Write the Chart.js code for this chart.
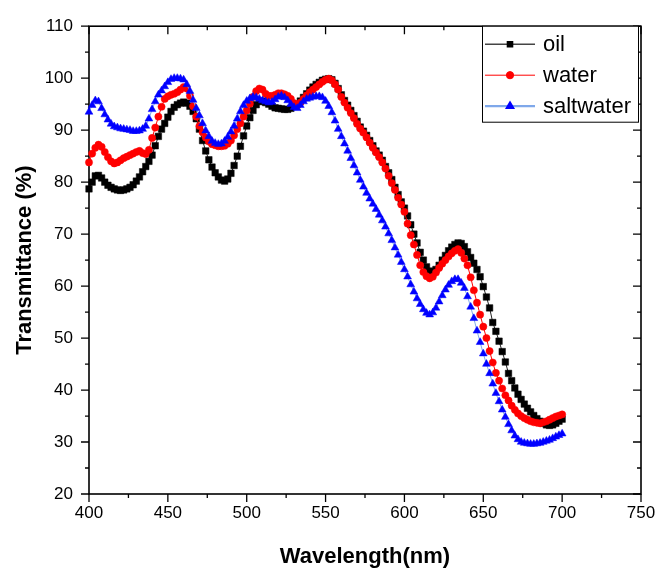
<!DOCTYPE html>
<head>
    <title>transmittance</title>
    <script src="https://cdn.jsdelivr.net/npm/chart.js@4.4.0/dist/chart.umd.min.js"></script>
    <style>
        body { margin: 0; background: #fff; }
    </style>
</head>
<body>
    <canvas id="chart" width="670" height="574"></canvas>
    <script>
// wavelength in nm, one sample every 2 nm
var wavelength = [
 400,402,404,406,408,410,412,414,416,418,
 420,422,424,426,428,430,432,434,436,438,
 440,442,444,446,448,450,452,454,456,458,
 460,462,464,466,468,470,472,474,476,478,
 480,482,484,486,488,490,492,494,496,498,
 500,502,504,506,508,510,512,514,516,518,
 520,522,524,526,528,530,532,534,536,538,
 540,542,544,546,548,550,552,554,556,558,
 560,562,564,566,568,570,572,574,576,578,
 580,582,584,586,588,590,592,594,596,598,
 600,602,604,606,608,610,612,614,616,618,
 620,622,624,626,628,630,632,634,636,638,
 640,642,644,646,648,650,652,654,656,658,
 660,662,664,666,668,670,672,674,676,678,
 680,682,684,686,688,690,692,694,696,698,
 700];

var oil = [
 78.7,80.0,81.2,81.3,80.8,80.0,79.4,79.0,78.7,78.5,
 78.4,78.5,78.7,79.0,79.5,80.2,81.0,82.0,83.0,84.0,
 85.2,87.0,88.8,90.2,91.3,92.5,93.6,94.4,94.9,95.2,
 95.4,95.2,94.6,93.6,92.2,90.2,88.0,86.0,84.3,82.9,
 81.8,81.0,80.4,80.2,80.6,81.7,83.2,85.0,86.9,88.9,
 90.8,92.4,93.8,94.9,95.5,95.6,95.3,95.0,94.6,94.3,
 94.2,94.1,94.0,94.0,94.2,94.6,95.0,95.6,96.3,97.0,
 97.7,98.3,98.8,99.2,99.6,99.8,99.9,99.7,99.0,98.0,
 96.8,95.7,94.8,93.8,92.8,91.7,90.6,89.8,89.0,88.0,
 87.0,86.0,85.2,84.2,83.0,81.8,80.5,79.0,77.6,76.2,
 75.0,73.5,71.8,70.0,68.3,66.5,65.0,63.7,62.9,62.7,
 63.2,64.0,65.0,65.9,66.8,67.5,68.0,68.3,68.2,67.6,
 66.6,65.5,64.4,63.2,61.8,59.9,57.9,55.8,53.0,51.3,
 49.4,47.4,45.4,43.2,41.8,40.4,39.2,38.2,37.3,36.5,
 35.8,35.1,34.5,34.0,33.6,33.3,33.2,33.3,33.6,34.0,
 34.4];

var water = [
 83.8,85.5,86.6,87.2,86.8,85.8,84.8,84.0,83.6,83.8,
 84.2,84.6,84.9,85.2,85.5,85.8,86.0,85.6,85.4,86.2,
 88.5,90.5,92.6,94.5,96.0,96.5,96.8,97.0,97.3,97.8,
 98.3,98.0,96.6,94.6,92.6,90.8,89.6,88.6,87.8,87.3,
 87.1,86.9,86.9,87.0,87.4,88.0,89.0,90.2,91.3,92.6,
 93.8,95.1,96.4,97.5,98.0,97.8,97.0,96.6,96.6,96.8,
 97.1,97.1,96.9,96.6,96.0,95.2,94.8,95.3,96.0,96.7,
 97.3,97.8,98.3,98.8,99.3,99.7,99.9,99.6,98.8,97.8,
 96.4,95.3,94.3,93.3,92.3,91.2,90.3,89.5,88.6,87.6,
 86.6,85.7,84.8,83.8,82.6,81.2,79.8,78.5,77.0,75.7,
 74.3,72.0,69.8,68.0,66.0,64.0,62.7,61.9,61.5,61.8,
 62.6,63.5,64.3,65.0,65.7,66.3,66.8,67.1,66.4,65.3,
 64.0,61.7,59.2,56.8,54.5,52.2,50.0,47.5,45.3,43.3,
 41.8,40.3,39.0,38.0,37.0,36.2,35.5,35.0,34.6,34.3,
 34.0,33.8,33.7,33.6,33.8,34.0,34.3,34.6,34.9,35.1,
 35.3];

var saltwater = [
 93.5,94.8,95.7,95.5,94.2,93.0,92.0,91.2,90.7,90.5,
 90.3,90.2,90.1,90.0,89.8,89.8,89.9,90.2,90.8,92.2,
 94.0,95.5,96.8,97.6,98.4,99.2,99.8,100.0,100.0,99.9,
 99.7,98.8,97.5,95.8,94.2,92.8,91.3,89.9,88.8,87.9,
 87.5,87.3,87.4,87.9,88.7,89.7,90.8,92.2,93.6,94.8,
 95.6,96.1,96.4,96.3,96.0,95.7,95.5,95.3,95.4,95.9,
 96.4,96.6,96.3,95.7,95.0,94.4,94.2,94.8,95.5,96.0,
 96.2,96.4,96.5,96.5,96.3,95.6,94.6,93.4,91.8,90.2,
 88.8,87.4,86.0,84.6,83.2,81.8,80.4,79.1,77.9,76.8,
 75.8,74.8,73.7,72.6,71.4,70.1,68.8,67.4,66.0,64.6,
 63.2,61.8,60.3,58.9,57.6,56.5,55.5,54.8,54.5,54.9,
 55.8,57.0,58.2,59.3,60.2,60.9,61.3,61.3,60.6,59.6,
 58.0,56.0,53.8,51.4,49.2,47.0,45.0,43.2,41.2,39.4,
 37.8,36.2,34.8,33.4,32.2,31.2,30.5,30.0,29.8,29.7,
 29.6,29.6,29.7,29.8,30.0,30.2,30.4,30.7,31.0,31.3,
 31.6];

var FONT = '"Liberation Sans", Arial, sans-serif';

function pts(vals) {
    return wavelength.map(function (w, i) { return {x: w, y: vals[i]}; });
}

// box, major and minor ticks (out on bottom/left, in on top/right)
var frame = {
    id: 'frame',
    beforeDatasetsDraw: function (chart) {
        var ctx = chart.ctx, a = chart.chartArea;
        var sx = chart.scales.x, sy = chart.scales.y;
        ctx.save();
        ctx.strokeStyle = '#000';
        ctx.lineWidth = 1.6;
        ctx.strokeRect(a.left, a.top, a.right - a.left, a.bottom - a.top);
        ctx.lineWidth = 1.3;
        ctx.beginPath();
        sx.ticks.forEach(function (t, i) {
            var px = sx.getPixelForValue(t.value);
            ctx.moveTo(px, a.bottom); ctx.lineTo(px, a.bottom + 8);
            ctx.moveTo(px, a.top); ctx.lineTo(px, a.top + 8);
            if (i > 0) {
                var mx = sx.getPixelForValue((t.value + sx.ticks[i - 1].value) / 2);
                ctx.moveTo(mx, a.bottom); ctx.lineTo(mx, a.bottom + 4);
                ctx.moveTo(mx, a.top); ctx.lineTo(mx, a.top + 4);
            }
        });
        sy.ticks.forEach(function (t, i) {
            var py = sy.getPixelForValue(t.value);
            ctx.moveTo(a.left, py); ctx.lineTo(a.left - 8, py);
            ctx.moveTo(a.right, py); ctx.lineTo(a.right - 8, py);
            if (i > 0) {
                var my = sy.getPixelForValue((t.value + sy.ticks[i - 1].value) / 2);
                ctx.moveTo(a.left, my); ctx.lineTo(a.left - 4, my);
                ctx.moveTo(a.right, my); ctx.lineTo(a.right - 4, my);
            }
        });
        ctx.stroke();
        ctx.restore();
    }
};

// legend box in the upper right corner, line + marker + label
var legendBox = {
    id: 'legendBox',
    afterDraw: function (chart) {
        var ctx = chart.ctx, a = chart.chartArea;
        var x0 = a.right - 159, y0 = a.top, w = 156, h = 96;
        ctx.save();
        ctx.fillStyle = '#fff';
        ctx.fillRect(x0, y0, w, h);
        ctx.strokeStyle = '#000';
        ctx.lineWidth = 1;
        ctx.strokeRect(x0 + 0.5, y0, w, h);
        var lineCols = ['#444', '#ff0000', '#7fa8ea'];
        var lineW = [1.5, 1, 2.2];
        chart.data.datasets.forEach(function (ds, i) {
            var cy = y0 + 18 + i * 31;
            ctx.strokeStyle = lineCols[i];
            ctx.lineWidth = lineW[i];
            ctx.beginPath();
            ctx.moveTo(x0 + 3, cy); ctx.lineTo(x0 + 53, cy);
            ctx.stroke();
            ctx.fillStyle = ds.pointBackgroundColor;
            ctx.strokeStyle = ds.pointBackgroundColor;
            Chart.helpers.drawPoint(ctx, {pointStyle: ds.pointStyle, radius: 3.6, borderWidth: 0.5, rotation: 0}, x0 + 28, cy);
            ctx.fillStyle = '#000';
            ctx.font = '22px ' + FONT;
            ctx.textBaseline = 'middle';
            ctx.textAlign = 'left';
            ctx.fillText(ds.label, x0 + 61, cy + 1);
        });
        ctx.restore();
    }
};

var ctx = document.getElementById('chart').getContext('2d');
var myChart = new Chart(ctx, {
    type: 'line',
    data: {
        datasets: [{
            label: 'oil',
            data: pts(oil),
            borderColor: '#222',
            borderWidth: 1,
            pointStyle: 'rect',
            pointRadius: 4.6,
            pointBackgroundColor: '#000000',
            pointBorderColor: '#000000',
            pointBorderWidth: 0.5,
            order: 2,
            clip: false
        }, {
            label: 'water',
            data: pts(water),
            borderColor: '#ff0000',
            borderWidth: 1,
            pointStyle: 'circle',
            pointRadius: 3.6,
            pointBackgroundColor: '#ff0000',
            pointBorderColor: '#ff0000',
            pointBorderWidth: 0.5,
            order: 1,
            clip: false
        }, {
            label: 'saltwater',
            data: pts(saltwater),
            borderColor: '#7fa8ea',
            borderWidth: 1,
            pointStyle: 'triangle',
            pointRadius: 4.5,
            pointBackgroundColor: '#0000ff',
            pointBorderColor: '#0000ff',
            pointBorderWidth: 0.5,
            order: 0,
            clip: false
        }]
    },
    options: {
        responsive: false,
        animation: false,
        layout: { padding: { top: 19, right: 29, left: 0, bottom: 0 } },
        plugins: { legend: { display: false }, tooltip: { enabled: false } },
        scales: {
            x: {
                type: 'linear',
                min: 400, max: 750,
                grid: { display: false, drawTicks: false },
                border: { display: false },
                ticks: { stepSize: 50, color: '#000', padding: 9, font: { family: FONT, size: 17 } },
                title: { display: true, text: 'Wavelength(nm)', color: '#000',
                         padding: { top: 0, bottom: 4 },
                         font: { family: FONT, size: 22, weight: 'bold' } },
                afterFit: function (s) { s.height = 80; }
            },
            y: {
                min: 20, max: 110,
                grid: { display: false, drawTicks: false },
                border: { display: false },
                ticks: { stepSize: 10, color: '#000', padding: 16, font: { family: FONT, size: 17 } },
                title: { display: true, text: 'Transmittance (%)', color: '#000',
                         padding: { top: 12, bottom: 0 },
                         font: { family: FONT, size: 22, weight: 'bold' } },
                afterFit: function (s) { s.width = 89; }
            }
        }
    },
    plugins: [frame, legendBox]
});
    </script>
</body>
